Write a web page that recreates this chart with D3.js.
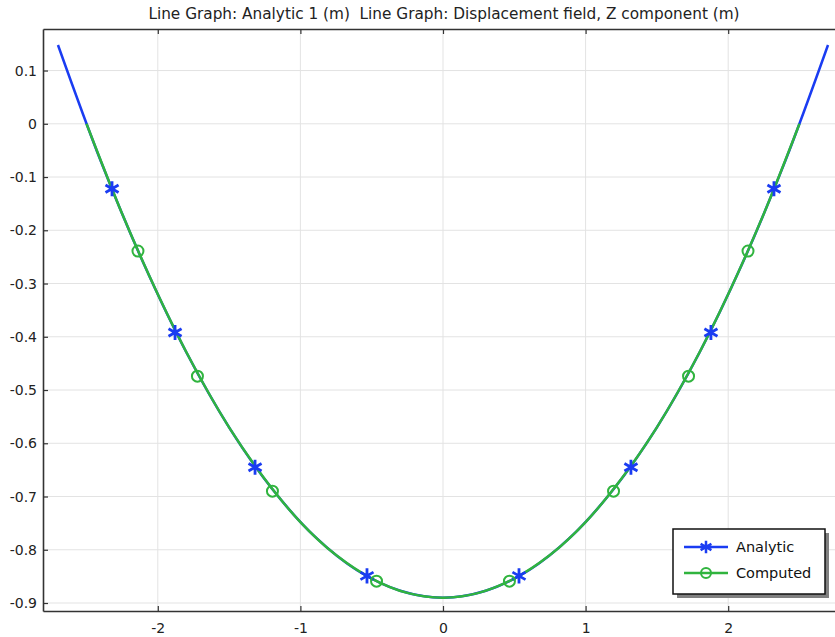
<!DOCTYPE html>
<html>
<head>
<meta charset="utf-8">
<script src="https://cdn.jsdelivr.net/npm/d3@7"></script>
<style>
  body { margin: 0; background: #fff; }
  svg { display: block; font-family: "DejaVu Sans", sans-serif; }
</style>
</head>
<body>
<div id="chart"></div>
<script>
// Analytic curve (blue)
const analyticX = [-2.7, -2.4, -2.1, -1.8, -1.5, -1.2, -0.9, -0.6, -0.3, 0, 0.3, 0.6, 0.9, 1.2, 1.5, 1.8, 2.1, 2.4, 2.7];
const analyticY = [0.148, -0.070, -0.262, -0.429, -0.570, -0.685, -0.775, -0.839, -0.877, -0.890, -0.877, -0.839, -0.775, -0.685, -0.570, -0.429, -0.262, -0.070, 0.148];

// Computed curve (green)
const computedX = [-2.5, -2.25, -2.0, -1.75, -1.5, -1.25, -1.0, -0.75, -0.5, -0.25, 0, 0.25, 0.5, 0.75, 1.0, 1.25, 1.5, 1.75, 2.0, 2.25, 2.5];
const computedY = [0.0, -0.169, -0.320, -0.454, -0.570, -0.667, -0.748, -0.810, -0.854, -0.881, -0.890, -0.881, -0.854, -0.810, -0.748, -0.667, -0.570, -0.454, -0.320, -0.169, 0.0];

// Marker positions
const analyticMarkX = [-2.321, -1.879, -1.318, -0.533, 0.533, 1.318, 1.879, 2.321];
const analyticMarkY = [-0.122, -0.392, -0.645, -0.849, -0.849, -0.645, -0.392, -0.122];
const computedMarkX = [-2.139, -1.722, -1.196, -0.466, 0.466, 1.196, 1.722, 2.139];
const computedMarkY = [-0.239, -0.474, -0.690, -0.859, -0.859, -0.690, -0.474, -0.239];

const xTicks = [-2, -1, 0, 1, 2];
const yTicks = [0.1, 0, -0.1, -0.2, -0.3, -0.4, -0.5, -0.6, -0.7, -0.8, -0.9];

const titleText = 'Line Graph: Analytic 1 (m)  Line Graph: Displacement field, Z component (m)';
const legendNames = ['Analytic', 'Computed'];

const blue = '#1a3cf2';
const green = '#30b43e';

const width = 835, height = 637;
const margin = { top: 29, right: 0, bottom: 26, left: 43 };

const svg = d3.select('#chart').append('svg')
    .attr('width', width)
    .attr('height', height);

const x = d3.scaleLinear()
    .domain([-2.805, 2.749])
    .range([margin.left, width - margin.right]);

const y = d3.scaleLinear()
    .domain([-0.915, 0.178])
    .range([height - margin.bottom, margin.top]);

// plain hyphen for negatives, like the original
const fmtX = d => String(d);
const fmtY = d => d === 0 ? '0' : d3.format('.1f')(d).replace('−', '-');

// title
svg.append('text')
    .attr('x', 444)
    .attr('y', 19)
    .attr('text-anchor', 'middle')
    .attr('font-size', 15.3)
    .attr('fill', '#222')
    .style('white-space', 'pre')
    .text(titleText);

// grid
const grid = svg.append('g');
grid.selectAll('.gx').data(xTicks).join('line')
    .attr('x1', d => x(d)).attr('x2', d => x(d))
    .attr('y1', y.range()[1]).attr('y2', y.range()[0])
    .attr('stroke', '#e3e3e3');
grid.selectAll('.gy').data(yTicks).join('line')
    .attr('x1', x.range()[0]).attr('x2', x.range()[1])
    .attr('y1', d => y(d)).attr('y2', d => y(d))
    .attr('stroke', '#e3e3e3');

// clip
svg.append('clipPath').attr('id', 'clip')
    .append('rect')
    .attr('x', x.range()[0]).attr('y', y.range()[1])
    .attr('width', x.range()[1] - x.range()[0])
    .attr('height', y.range()[0] - y.range()[1]);

const plot = svg.append('g').attr('clip-path', 'url(#clip)');

const line = d3.line()
    .x(d => x(d[0]))
    .y(d => y(d[1]))
    .curve(d3.curveCatmullRom);

plot.append('path')
    .datum(d3.zip(analyticX, analyticY))
    .attr('d', line)
    .attr('fill', 'none')
    .attr('stroke', blue)
    .attr('stroke-width', 2.5);

plot.append('path')
    .datum(d3.zip(computedX, computedY))
    .attr('d', line)
    .attr('fill', 'none')
    .attr('stroke', green)
    .attr('stroke-width', 2.5);

const star = d3.symbol(d3.symbolAsterisk, 160);

plot.selectAll('.amark')
    .data(d3.zip(analyticMarkX, analyticMarkY))
    .join('path')
    .attr('transform', d => `translate(${x(d[0])},${y(d[1])})`)
    .attr('d', star)
    .attr('fill', 'none')
    .attr('stroke', blue)
    .attr('stroke-width', 2.8);

plot.selectAll('.cmark')
    .data(d3.zip(computedMarkX, computedMarkY))
    .join('circle')
    .attr('cx', d => x(d[0]))
    .attr('cy', d => y(d[1]))
    .attr('r', 5.5)
    .attr('fill', 'none')
    .attr('stroke', green)
    .attr('stroke-width', 2);

// axes (ticks point inward)
const axisColor = '#333';
const xAxis = svg.append('g')
    .attr('transform', `translate(0,${y.range()[0]})`)
    .call(d3.axisBottom(x).tickValues(xTicks).tickSizeInner(-5).tickSizeOuter(0).tickPadding(12)
        .tickFormat(fmtX));
const xTop = svg.append('g')
    .attr('transform', `translate(0,${y.range()[1]})`)
    .call(d3.axisTop(x).tickValues(xTicks).tickSizeInner(-5).tickSizeOuter(0).tickFormat(''));
const yAxis = svg.append('g')
    .attr('transform', `translate(${x.range()[0]},0)`)
    .call(d3.axisLeft(y).tickValues(yTicks).tickSizeInner(-5).tickSizeOuter(0).tickPadding(6)
        .tickFormat(fmtY));

[xAxis, xTop, yAxis].forEach(a => {
    a.select('.domain').attr('stroke', axisColor).attr('stroke-width', 1.6);
    a.selectAll('.tick line').attr('stroke', axisColor).attr('stroke-width', 1.2);
    a.selectAll('.tick text')
        .attr('fill', '#222')
        .attr('font-size', 14)
        .attr('font-family', '"DejaVu Sans", sans-serif');
});

// legend
const lg = svg.append('g').attr('transform', 'translate(673,529)');
lg.append('rect')
    .attr('x', 4).attr('y', 4)
    .attr('width', 152).attr('height', 65)
    .attr('fill', '#808080');
lg.append('rect')
    .attr('width', 152).attr('height', 65)
    .attr('fill', '#fff')
    .attr('stroke', '#111')
    .attr('stroke-width', 1.5);

const items = lg.selectAll('.item')
    .data(legendNames)
    .join('g')
    .attr('transform', (d, i) => `translate(0,${18 + i * 26})`);

items.append('line')
    .attr('x1', 11).attr('x2', 55)
    .attr('stroke', (d, i) => i === 0 ? blue : green)
    .attr('stroke-width', 2.5);

items.filter((d, i) => i === 0).append('path')
    .attr('transform', 'translate(33,0)')
    .attr('d', d3.symbol(d3.symbolAsterisk, 110))
    .attr('fill', 'none').attr('stroke', blue).attr('stroke-width', 2.5);

items.filter((d, i) => i === 1).append('circle')
    .attr('cx', 33).attr('r', 5)
    .attr('fill', 'none').attr('stroke', green).attr('stroke-width', 2);

items.append('text')
    .attr('x', 63).attr('dy', '0.35em')
    .attr('font-size', 14.5)
    .attr('fill', '#111')
    .text(d => d);
</script>
</body>
</html>
